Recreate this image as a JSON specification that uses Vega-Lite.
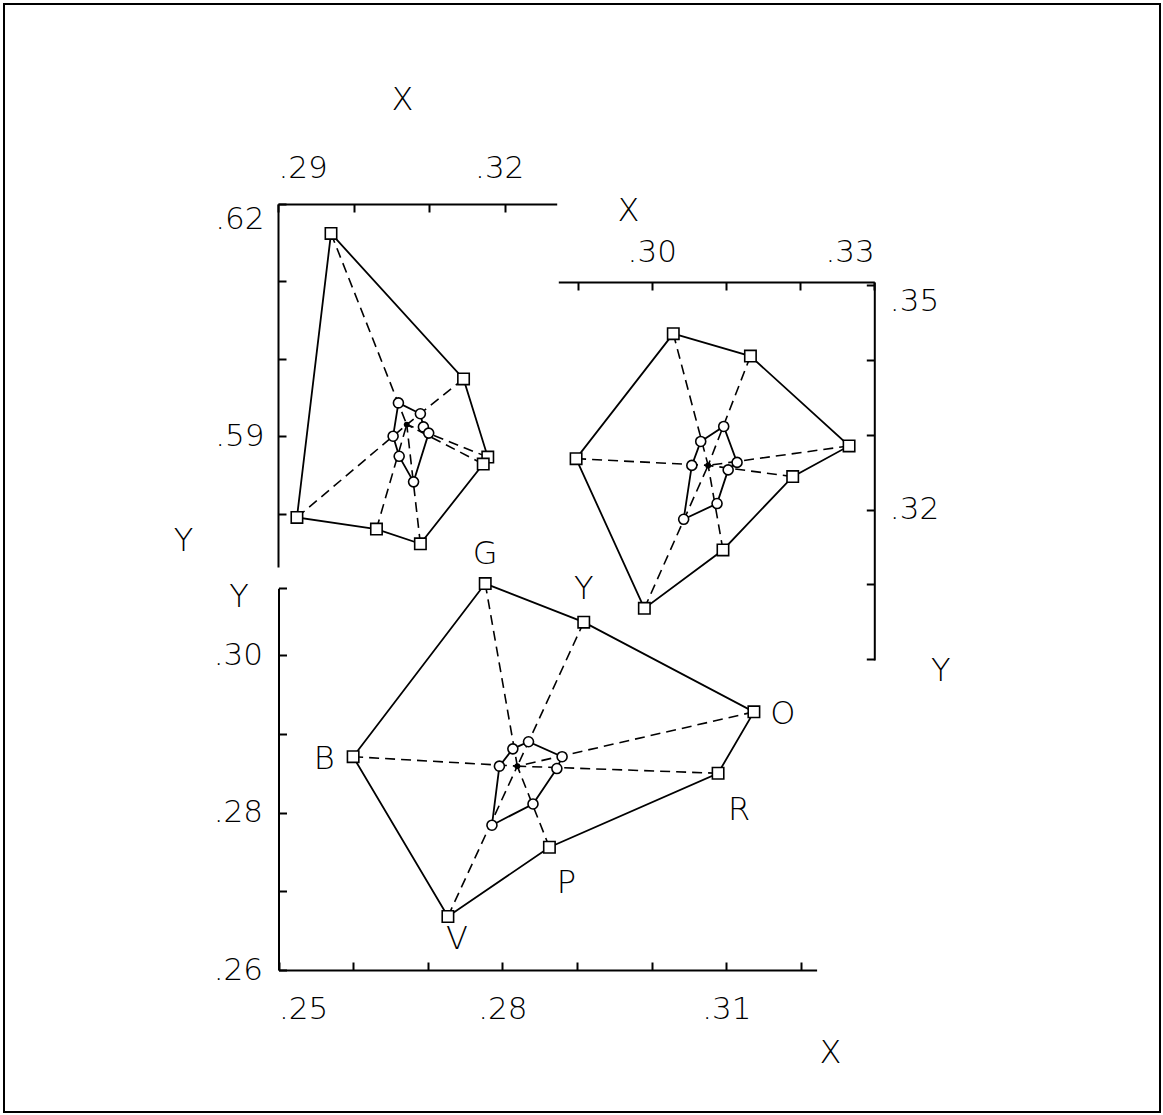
{
  "$schema": "https://vega.github.io/schema/vega-lite/v6.json",
  "width": 1156,
  "height": 1108,
  "autosize": {"type": "none"},
  "padding": {"left": 4, "top": 4, "right": 3, "bottom": 3},
  "background": "white",
  "config": {
    "view": {"stroke": "black", "strokeWidth": 2},
    "axis": {
      "grid": false,
      "domainColor": "black",
      "domainWidth": 2,
      "tickColor": "black",
      "tickWidth": 2,
      "tickSize": -8,
      "labelFont": "DejaVu Sans",
      "labelFontSize": 31,
      "labelFontWeight": 200,
      "labelColor": "black",
      "labelOverlap": false,
      "titleFont": "DejaVu Sans",
      "titleFontSize": 32,
      "titleFontWeight": 200,
      "titleColor": "black",
      "titleAngle": 0,
      "titleAlign": "center",
      "titleBaseline": "middle"
    },
    "text": {"font": "DejaVu Sans", "fontSize": 32, "fontWeight": 200, "color": "black"}
  },
  "datasets": {
    "points": [
      {"panel": "ul", "kind": "outer", "k": 1, "c": "G", "x": 0.2970, "y": 0.6162},
      {"panel": "ul", "kind": "outer", "k": 2, "c": "Y", "x": 0.3145, "y": 0.5974},
      {"panel": "ul", "kind": "outer", "k": 3, "c": "O", "x": 0.3177, "y": 0.5873},
      {"panel": "ul", "kind": "outer", "k": 4, "c": "R", "x": 0.3171, "y": 0.5864},
      {"panel": "ul", "kind": "outer", "k": 5, "c": "P", "x": 0.3088, "y": 0.5761},
      {"panel": "ul", "kind": "outer", "k": 6, "c": "V", "x": 0.3030, "y": 0.5780},
      {"panel": "ul", "kind": "outer", "k": 7, "c": "B", "x": 0.2925, "y": 0.5795},
      {"panel": "ul", "kind": "inner", "k": 1, "c": "G", "x": 0.3059, "y": 0.5943},
      {"panel": "ul", "kind": "inner", "k": 2, "c": "Y", "x": 0.3088, "y": 0.5929},
      {"panel": "ul", "kind": "inner", "k": 3, "c": "O", "x": 0.3092, "y": 0.5912},
      {"panel": "ul", "kind": "inner", "k": 4, "c": "R", "x": 0.3099, "y": 0.5904},
      {"panel": "ul", "kind": "inner", "k": 5, "c": "P", "x": 0.3079, "y": 0.5841},
      {"panel": "ul", "kind": "inner", "k": 6, "c": "V", "x": 0.3060, "y": 0.5874},
      {"panel": "ul", "kind": "inner", "k": 7, "c": "B", "x": 0.3052, "y": 0.5900},
      {"panel": "ur", "kind": "outer", "k": 1, "c": "G", "x": 0.3029, "y": 0.3435},
      {"panel": "ur", "kind": "outer", "k": 2, "c": "Y", "x": 0.3133, "y": 0.3405},
      {"panel": "ur", "kind": "outer", "k": 3, "c": "O", "x": 0.3266, "y": 0.3285},
      {"panel": "ur", "kind": "outer", "k": 4, "c": "R", "x": 0.3190, "y": 0.3244},
      {"panel": "ur", "kind": "outer", "k": 5, "c": "P", "x": 0.3096, "y": 0.3146},
      {"panel": "ur", "kind": "outer", "k": 6, "c": "V", "x": 0.2990, "y": 0.3068},
      {"panel": "ur", "kind": "outer", "k": 7, "c": "B", "x": 0.2898, "y": 0.3268},
      {"panel": "ur", "kind": "inner", "k": 1, "c": "G", "x": 0.3066, "y": 0.3291},
      {"panel": "ur", "kind": "inner", "k": 2, "c": "Y", "x": 0.3097, "y": 0.3311},
      {"panel": "ur", "kind": "inner", "k": 3, "c": "O", "x": 0.3115, "y": 0.3263},
      {"panel": "ur", "kind": "inner", "k": 4, "c": "R", "x": 0.3103, "y": 0.3253},
      {"panel": "ur", "kind": "inner", "k": 5, "c": "P", "x": 0.3088, "y": 0.3208},
      {"panel": "ur", "kind": "inner", "k": 6, "c": "V", "x": 0.3043, "y": 0.3187},
      {"panel": "ur", "kind": "inner", "k": 7, "c": "B", "x": 0.3054, "y": 0.3259},
      {"panel": "lo", "kind": "outer", "k": 1, "c": "B", "x": 0.2600, "y": 0.2871},
      {"panel": "lo", "kind": "outer", "k": 2, "c": "G", "x": 0.2777, "y": 0.3091},
      {"panel": "lo", "kind": "outer", "k": 3, "c": "Y", "x": 0.2909, "y": 0.3042},
      {"panel": "lo", "kind": "outer", "k": 4, "c": "O", "x": 0.3137, "y": 0.2928},
      {"panel": "lo", "kind": "outer", "k": 5, "c": "R", "x": 0.3089, "y": 0.2850},
      {"panel": "lo", "kind": "outer", "k": 6, "c": "P", "x": 0.2863, "y": 0.2756},
      {"panel": "lo", "kind": "outer", "k": 7, "c": "V", "x": 0.2727, "y": 0.2668},
      {"panel": "lo", "kind": "inner", "k": 1, "c": "B", "x": 0.2796, "y": 0.2859},
      {"panel": "lo", "kind": "inner", "k": 2, "c": "G", "x": 0.2814, "y": 0.2881},
      {"panel": "lo", "kind": "inner", "k": 3, "c": "Y", "x": 0.2835, "y": 0.2890},
      {"panel": "lo", "kind": "inner", "k": 4, "c": "O", "x": 0.2880, "y": 0.2871},
      {"panel": "lo", "kind": "inner", "k": 5, "c": "R", "x": 0.2873, "y": 0.2856},
      {"panel": "lo", "kind": "inner", "k": 6, "c": "P", "x": 0.2841, "y": 0.2811},
      {"panel": "lo", "kind": "inner", "k": 7, "c": "V", "x": 0.2786, "y": 0.2784}
    ],
    "centers": [
      {"panel": "ul", "x": 0.3070, "y": 0.5915},
      {"panel": "ur", "x": 0.3076, "y": 0.3259},
      {"panel": "lo", "x": 0.2820, "y": 0.2859}
    ]
  },
  "layer": [
    {
      "data": {"name": "points"},
      "transform": [{"filter": "datum.panel == 'ul'"}],
      "encoding": {
        "x": {
          "field": "x", "type": "quantitative",
          "scale": {"domain": [0.29, 0.3268], "range": [274, 552.7], "zero": false, "nice": false},
          "axis": {
            "orient": "top", "offset": -200,
            "values": [0.29, 0.30, 0.31, 0.32],
            "labelExpr": "indexof(['0.29','0.32'], format(datum.value,'.2f')) >= 0 ? replace(format(datum.value,'.2f'),'0.','.') : ''",
            "labelFlush": true, "labelPadding": 28,
            "labelOffset": {"condition": {"test": "datum.value > 0.315", "value": -6}, "value": 0},
            "title": "X", "titleX": 398, "titleY": -105
          }
        },
        "y": {
          "field": "y", "type": "quantitative",
          "scale": {"domain": [0.5731, 0.62], "range": [563, 200], "zero": false, "nice": false},
          "axis": {
            "orient": "left", "offset": -274,
            "values": [0.58, 0.59, 0.60, 0.61, 0.62],
            "labelExpr": "indexof(['0.59','0.62'], format(datum.value,'.2f')) >= 0 ? replace(format(datum.value,'.2f'),'0.','.') : ''",
            "labelFlush": false, "labelPadding": 22,
            "labelOffset": {"condition": {"test": "datum.value > 0.615", "value": 15}, "value": 0},
            "title": "Y", "titleX": -95, "titleY": 536
          }
        }
      },
      "layer": [
        {
          "transform": [
            {"filter": "datum.kind == 'outer'"},
            {"lookup": "panel", "from": {"data": {"name": "centers"}, "key": "panel", "fields": ["x", "y"]}, "as": ["cx", "cy"]}
          ],
          "mark": {"type": "rule", "strokeDash": [10, 6], "strokeWidth": 1.6, "color": "black"},
          "encoding": {"x2": {"field": "cx"}, "y2": {"field": "cy"}}
        },
        {
          "transform": [{"filter": "datum.kind == 'outer'"}],
          "mark": {"type": "line", "interpolate": "linear-closed", "color": "black", "strokeWidth": 1.8},
          "encoding": {"order": {"field": "k"}}
        },
        {
          "transform": [{"filter": "datum.kind == 'inner'"}],
          "mark": {"type": "line", "interpolate": "linear-closed", "color": "black", "strokeWidth": 1.8},
          "encoding": {"order": {"field": "k"}}
        },
        {
          "transform": [{"filter": "datum.kind == 'outer'"}],
          "mark": {"type": "point", "shape": "square", "size": 130, "filled": true, "fill": "white", "stroke": "black", "strokeWidth": 1.6, "opacity": 1}
        },
        {
          "transform": [{"filter": "datum.kind == 'inner'"}],
          "mark": {"type": "point", "shape": "circle", "size": 100, "filled": true, "fill": "white", "stroke": "black", "strokeWidth": 1.6, "opacity": 1}
        },
        {
          "data": {"name": "centers"},
          "transform": [{"filter": "datum.panel == 'ul'"}],
          "mark": {"type": "point", "shape": "circle", "size": 35, "filled": true, "color": "black", "opacity": 1}
        }
      ]
    },
    {
      "data": {"name": "points"},
      "transform": [{"filter": "datum.panel == 'ur'"}],
      "encoding": {
        "x": {
          "field": "x", "type": "quantitative",
          "scale": {"domain": [0.2874, 0.33], "range": [554.3, 870.3], "zero": false, "nice": false},
          "axis": {
            "orient": "top", "offset": -278,
            "values": [0.29, 0.30, 0.31, 0.32, 0.33],
            "labelExpr": "indexof(['0.30','0.33'], format(datum.value,'.2f')) >= 0 ? replace(format(datum.value,'.2f'),'0.','.') : ''",
            "labelFlush": true, "labelPadding": 22,
            "title": "X", "titleX": 624, "titleY": -72
          }
        },
        "y": {
          "field": "y", "type": "quantitative",
          "scale": {"domain": [0.2999, 0.3504], "range": [656, 278], "zero": false, "nice": false},
          "axis": {
            "orient": "right", "offset": -285.7,
            "values": [0.30, 0.31, 0.32, 0.33, 0.34, 0.35],
            "labelExpr": "indexof(['0.32','0.35'], format(datum.value,'.2f')) >= 0 ? replace(format(datum.value,'.2f'),'0.','.') : ''",
            "labelFlush": false, "labelPadding": 23,
            "labelOffset": {"condition": {"test": "datum.value > 0.345", "value": 17}, "value": 0},
            "title": "Y", "titleX": 66, "titleY": 666
          }
        }
      },
      "layer": [
        {
          "transform": [
            {"filter": "datum.kind == 'outer'"},
            {"lookup": "panel", "from": {"data": {"name": "centers"}, "key": "panel", "fields": ["x", "y"]}, "as": ["cx", "cy"]}
          ],
          "mark": {"type": "rule", "strokeDash": [10, 6], "strokeWidth": 1.6, "color": "black"},
          "encoding": {"x2": {"field": "cx"}, "y2": {"field": "cy"}}
        },
        {
          "transform": [{"filter": "datum.kind == 'outer'"}],
          "mark": {"type": "line", "interpolate": "linear-closed", "color": "black", "strokeWidth": 1.8},
          "encoding": {"order": {"field": "k"}}
        },
        {
          "transform": [{"filter": "datum.kind == 'inner'"}],
          "mark": {"type": "line", "interpolate": "linear-closed", "color": "black", "strokeWidth": 1.8},
          "encoding": {"order": {"field": "k"}}
        },
        {
          "transform": [{"filter": "datum.kind == 'outer'"}],
          "mark": {"type": "point", "shape": "square", "size": 130, "filled": true, "fill": "white", "stroke": "black", "strokeWidth": 1.6, "opacity": 1}
        },
        {
          "transform": [{"filter": "datum.kind == 'inner'"}],
          "mark": {"type": "point", "shape": "circle", "size": 100, "filled": true, "fill": "white", "stroke": "black", "strokeWidth": 1.6, "opacity": 1}
        },
        {
          "data": {"name": "centers"},
          "transform": [{"filter": "datum.panel == 'ur'"}],
          "mark": {"type": "point", "shape": "circle", "size": 35, "filled": true, "color": "black", "opacity": 1}
        }
      ]
    },
    {
      "data": {"name": "points"},
      "transform": [{"filter": "datum.panel == 'lo'"}],
      "encoding": {
        "x": {
          "field": "x", "type": "quantitative",
          "scale": {"domain": [0.25, 0.3221], "range": [274.5, 812.6], "zero": false, "nice": false},
          "axis": {
            "orient": "bottom", "offset": -142,
            "values": [0.25, 0.26, 0.27, 0.28, 0.29, 0.30, 0.31, 0.32],
            "labelExpr": "indexof(['0.25','0.28','0.31'], format(datum.value,'.2f')) >= 0 ? replace(format(datum.value,'.2f'),'0.','.') : ''",
            "labelFlush": true, "labelPadding": 32,
            "title": "X", "titleX": 826, "titleY": 82
          }
        },
        "y": {
          "field": "y", "type": "quantitative",
          "scale": {"domain": [0.26, 0.3085], "range": [966, 584.3], "zero": false, "nice": false},
          "axis": {
            "orient": "left", "offset": -274.5,
            "values": [0.26, 0.27, 0.28, 0.29, 0.30, 0.3085],
            "labelExpr": "indexof(['0.260','0.280','0.300'], format(datum.value,'.3f')) >= 0 ? replace(format(datum.value,'.2f'),'0.','.') : ''",
            "labelFlush": false, "labelPadding": 24,
            "title": "Y", "titleX": -40, "titleY": 592
          }
        }
      },
      "layer": [
        {
          "transform": [
            {"filter": "datum.kind == 'outer'"},
            {"lookup": "panel", "from": {"data": {"name": "centers"}, "key": "panel", "fields": ["x", "y"]}, "as": ["cx", "cy"]}
          ],
          "mark": {"type": "rule", "strokeDash": [10, 6], "strokeWidth": 1.6, "color": "black"},
          "encoding": {"x2": {"field": "cx"}, "y2": {"field": "cy"}}
        },
        {
          "transform": [{"filter": "datum.kind == 'outer'"}],
          "mark": {"type": "line", "interpolate": "linear-closed", "color": "black", "strokeWidth": 1.8},
          "encoding": {"order": {"field": "k"}}
        },
        {
          "transform": [{"filter": "datum.kind == 'inner'"}],
          "mark": {"type": "line", "interpolate": "linear-closed", "color": "black", "strokeWidth": 1.8},
          "encoding": {"order": {"field": "k"}}
        },
        {
          "transform": [{"filter": "datum.kind == 'outer'"}],
          "mark": {"type": "point", "shape": "square", "size": 130, "filled": true, "fill": "white", "stroke": "black", "strokeWidth": 1.6, "opacity": 1}
        },
        {
          "transform": [{"filter": "datum.kind == 'inner'"}],
          "mark": {"type": "point", "shape": "circle", "size": 100, "filled": true, "fill": "white", "stroke": "black", "strokeWidth": 1.6, "opacity": 1}
        },
        {
          "data": {"name": "centers"},
          "transform": [{"filter": "datum.panel == 'lo'"}],
          "mark": {"type": "point", "shape": "circle", "size": 35, "filled": true, "color": "black", "opacity": 1}
        },
        {
          "transform": [{"filter": "datum.kind == 'outer'"}],
          "mark": {
            "type": "text", "align": "center", "baseline": "middle",
            "dx": {"expr": "datum.c == 'B' ? -29 : datum.c == 'O' ? 29 : datum.c == 'R' ? 21 : datum.c == 'P' ? 17 : datum.c == 'V' ? 9 : 0"},
            "dy": {"expr": "datum.c == 'G' ? -30 : datum.c == 'Y' ? -33 : datum.c == 'R' ? 37 : datum.c == 'P' ? 36 : datum.c == 'V' ? 23 : 2"}
          },
          "encoding": {"text": {"field": "c"}}
        }
      ]
    }
  ],
  "resolve": {
    "scale": {"x": "independent", "y": "independent"},
    "axis": {"x": "independent", "y": "independent"}
  }
}
